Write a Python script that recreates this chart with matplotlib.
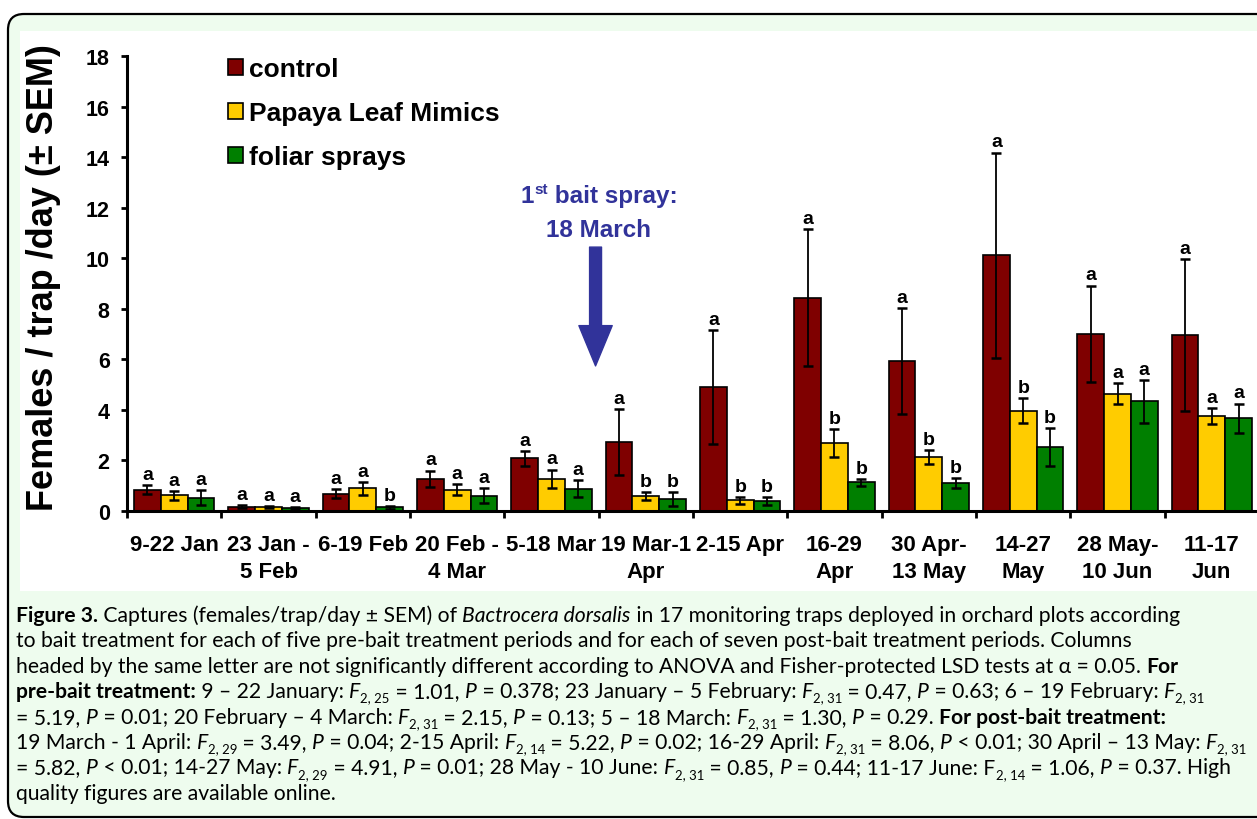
import re
import numpy as np
import matplotlib
matplotlib.use('Agg')
import matplotlib.pyplot as plt
from matplotlib import font_manager
from matplotlib.font_manager import FontProperties
from matplotlib.patches import FancyBboxPatch, Rectangle, Patch
from matplotlib.transforms import IdentityTransform

## data
periods = ['9-22 Jan', '23 Jan -\n5 Feb', '6-19 Feb', '20 Feb -\n4 Mar', '5-18 Mar',
           '19 Mar-1\nApr', '2-15 Apr', '16-29\nApr', '30 Apr-\n13 May', '14-27\nMay',
           '28 May-\n10 Jun', '11-17\nJun']
series = ['control', 'Papaya Leaf Mimics', 'foliar sprays']
colors = ['#7f0000', '#ffcc00', '#007f00']

control = [0.85, 0.16, 0.69, 1.28, 2.08, 2.72, 4.90, 8.44, 5.92, 10.12, 7.02, 6.96]
control_err = [0.17, 0.06, 0.18, 0.32, 0.30, 1.31, 2.26, 2.70, 2.10, 4.06, 1.90, 3.00]
papaya = [0.62, 0.15, 0.90, 0.85, 1.28, 0.60, 0.42, 2.68, 2.12, 3.97, 4.64, 3.77]
papaya_err = [0.17, 0.05, 0.25, 0.22, 0.36, 0.15, 0.15, 0.56, 0.28, 0.50, 0.42, 0.31]
foliar = [0.53, 0.10, 0.14, 0.60, 0.89, 0.46, 0.40, 1.13, 1.10, 2.52, 4.34, 3.66]
foliar_err = [0.30, 0.04, 0.07, 0.30, 0.33, 0.28, 0.16, 0.15, 0.20, 0.75, 0.85, 0.59]

letters_control = ['a'] * 12
letters_papaya = ['a', 'a', 'a', 'a', 'a', 'b', 'b', 'b', 'b', 'b', 'a', 'a']
letters_foliar = ['a', 'a', 'b', 'a', 'a', 'b', 'b', 'b', 'b', 'b', 'a', 'a']

spray_x = 4.467      # between 5-18 Mar and 19 Mar-1 Apr
spray_from = 10.44
spray_to = 5.74

caption = [
    '**Figure 3.** Captures (females/trap/day ± SEM) of *Bactrocera dorsalis* in 17 monitoring traps deployed in orchard plots according',
    'to bait treatment for each of five pre-bait treatment periods and for each of seven post-bait treatment periods. Columns',
    'headed by the same letter are not significantly different according to ANOVA and Fisher-protected LSD tests at α = 0.05. **For**',
    '**pre-bait treatment:** 9 – 22 January: *F*_{2, 25} = 1.01, *P* = 0.378; 23 January – 5 February: *F*_{2, 31} = 0.47, *P* = 0.63; 6 – 19 February: *F*_{2, 31}',
    '= 5.19, *P* = 0.01; 20 February – 4 March: *F*_{2, 31} = 2.15, *P* = 0.13; 5 – 18 March: *F*_{2, 31} = 1.30, *P* = 0.29. **For post-bait treatment:**',
    '19 March - 1 April: *F*_{2, 29} = 3.49, *P* = 0.04; 2-15 April: *F*_{2, 14} = 5.22, *P* = 0.02; 16-29 April: *F*_{2, 31} = 8.06, *P* < 0.01; 30 April – 13 May: *F*_{2, 31}',
    '= 5.82, *P* < 0.01; 14-27 May: *F*_{2, 29} = 4.91, *P* = 0.01; 28 May - 10 June: *F*_{2, 31} = 0.85, *P* = 0.44; 11-17 June: F_{2, 14} = 1.06, *P* = 0.37. High',
    'quality figures are available online.',
]

## fonts
names = {f.name for f in font_manager.fontManager.ttflist}
chart_font = 'Liberation Sans' if 'Liberation Sans' in names else 'DejaVu Sans'
cap_font = next((f for f in ['Lato', 'Open Sans', 'Noto Sans'] if f in names), 'DejaVu Sans')
plt.rcParams['font.family'] = [chart_font, 'DejaVu Sans']
plt.rcParams['font.weight'] = 'bold'

W, H = 1257, 820
fig = plt.figure(figsize=(W / 100, H / 100), dpi=100)
fig.patch.set_facecolor('white')
renderer = fig.canvas.get_renderer()

# frame + panels (pixel coords, origin bottom-left)
frame = FancyBboxPatch((8, 2), 1320, 803, boxstyle='round,pad=0,rounding_size=16',
                       facecolor='#eefcee', edgecolor='black', linewidth=1.6,
                       transform=IdentityTransform(), zorder=-3)
fig.add_artist(frame)
fig.add_artist(Rectangle((20, H - 592), 1300, 560, facecolor='white', edgecolor='none',
                         transform=IdentityTransform(), zorder=-2))

## chart
ax = fig.add_axes([127 / W, 308 / H, 1132 / W, 455 / H])
x = np.arange(len(periods))
bw = 0.283
groups = [(control, control_err, letters_control),
          (papaya, papaya_err, letters_papaya),
          (foliar, foliar_err, letters_foliar)]
for i, (vals, errs, lets) in enumerate(groups):
    pos = x + (i - 1) * bw
    ax.bar(pos, vals, bw, yerr=errs, color=colors[i], edgecolor='black', linewidth=1.2,
           label=series[i], zorder=2,
           error_kw=dict(ecolor='black', elinewidth=1.3, capsize=3.5, capthick=1.8))
    for p, v, e, l in zip(pos, vals, errs, lets):
        ax.annotate(l, (p, v + e), xytext=(0, 1.5), textcoords='offset points',
                    ha='center', va='bottom', fontsize=14, fontweight='bold')

ax.set_xlim(-0.5, 11.5)
ax.set_ylim(0, 18)
ax.set_yticks(range(0, 19, 2))
ax.set_xticks(x, periods, linespacing=1.4)
ax.set_xticks(np.arange(-0.5, 12, 1), minor=True)
for s in ['top', 'right']:
    ax.spines[s].set_visible(False)
for s in ['left', 'bottom']:
    ax.spines[s].set_linewidth(2.2)
ax.tick_params(axis='y', direction='out', length=4.5, width=2, labelsize=15.5, pad=8)
ax.tick_params(axis='x', which='major', length=0, labelsize=16, pad=16.5)
ax.tick_params(axis='x', which='minor', direction='out', length=5, width=2)

handles = [Patch(facecolor=c, edgecolor='black', linewidth=1.2) for c in colors]
ax.legend(handles, series, loc='upper left', bbox_to_anchor=(228 / W, (H - 58) / H),
          bbox_transform=fig.transFigure, frameon=False, fontsize=19,
          handlelength=0.55, handleheight=0.55, handletextpad=0.25, labelspacing=0.76,
          borderpad=0, borderaxespad=0)

fig.text(44 / W, (H - 278) / H, 'Females / trap /day (± SEM)', rotation=90,
         ha='center', va='center', fontsize=26, fontweight='bold')

blue = '#31339a'
ax.annotate('', xy=(spray_x, spray_to), xytext=(spray_x, spray_from),
            arrowprops=dict(arrowstyle='simple,head_length=2.9,head_width=2.4,tail_width=0.86',
                            mutation_scale=10, color=blue, shrinkA=0, shrinkB=0))


## text in runs (pixel coords from top)
def width_of(s, fp):
    w1 = renderer.get_text_width_height_descent('|' + s + '|', fp, ismath=False)[0]
    w0 = renderer.get_text_width_height_descent('||', fp, ismath=False)[0]
    return w1 - w0


def put_runs(x0, base, runs, center=False):
    total = sum(width_of(s, fp) for s, fp, dy, kw in runs)
    xx = x0 - total / 2 if center else x0
    for s, fp, dy, kw in runs:
        fig.text(xx / W, (H - base + dy) / H, s, fontproperties=fp, va='baseline',
                 ha='left', **kw)
        xx += width_of(s, fp)


big = FontProperties(family=[chart_font], weight='bold', size=17.5)
small = FontProperties(family=[chart_font], weight='bold', size=11)
put_runs(599, 203, [('1', big, 0, dict(color=blue)), ('st', small, 9, dict(color=blue)),
                    (' bait spray:', big, 0, dict(color=blue))], center=True)
put_runs(599, 237, [('18 March', big, 0, dict(color=blue))], center=True)


## caption
def parse(line, size):
    fam = [cap_font, 'DejaVu Sans']
    runs = []
    for p in re.split(r'(\*\*.+?\*\*|\*.+?\*|_\{.+?\})', line):
        if not p:
            continue
        if p.startswith('**'):
            runs.append((p[2:-2], FontProperties(family=fam, weight='bold', size=size), 0, {}))
        elif p.startswith('_{'):
            runs.append((p[2:-1], FontProperties(family=fam, weight='normal', size=size * 0.62),
                         -size * 0.28, {}))
        elif p.startswith('*'):
            runs.append((p[1:-1], FontProperties(family=fam, weight='normal', style='italic',
                                                 size=size), 0, {}))
        else:
            runs.append((p, FontProperties(family=fam, weight='normal', size=size), 0, {}))
    return runs


widest = max(sum(width_of(s, fp) for s, fp, dy, kw in parse(line, 14)) for line in caption)
cap_size = 14 * 1236 / widest
for k, line in enumerate(caption):
    put_runs(16, 622 + k * 25.4, parse(line, cap_size))

fig.savefig('out.png', dpi=100)
